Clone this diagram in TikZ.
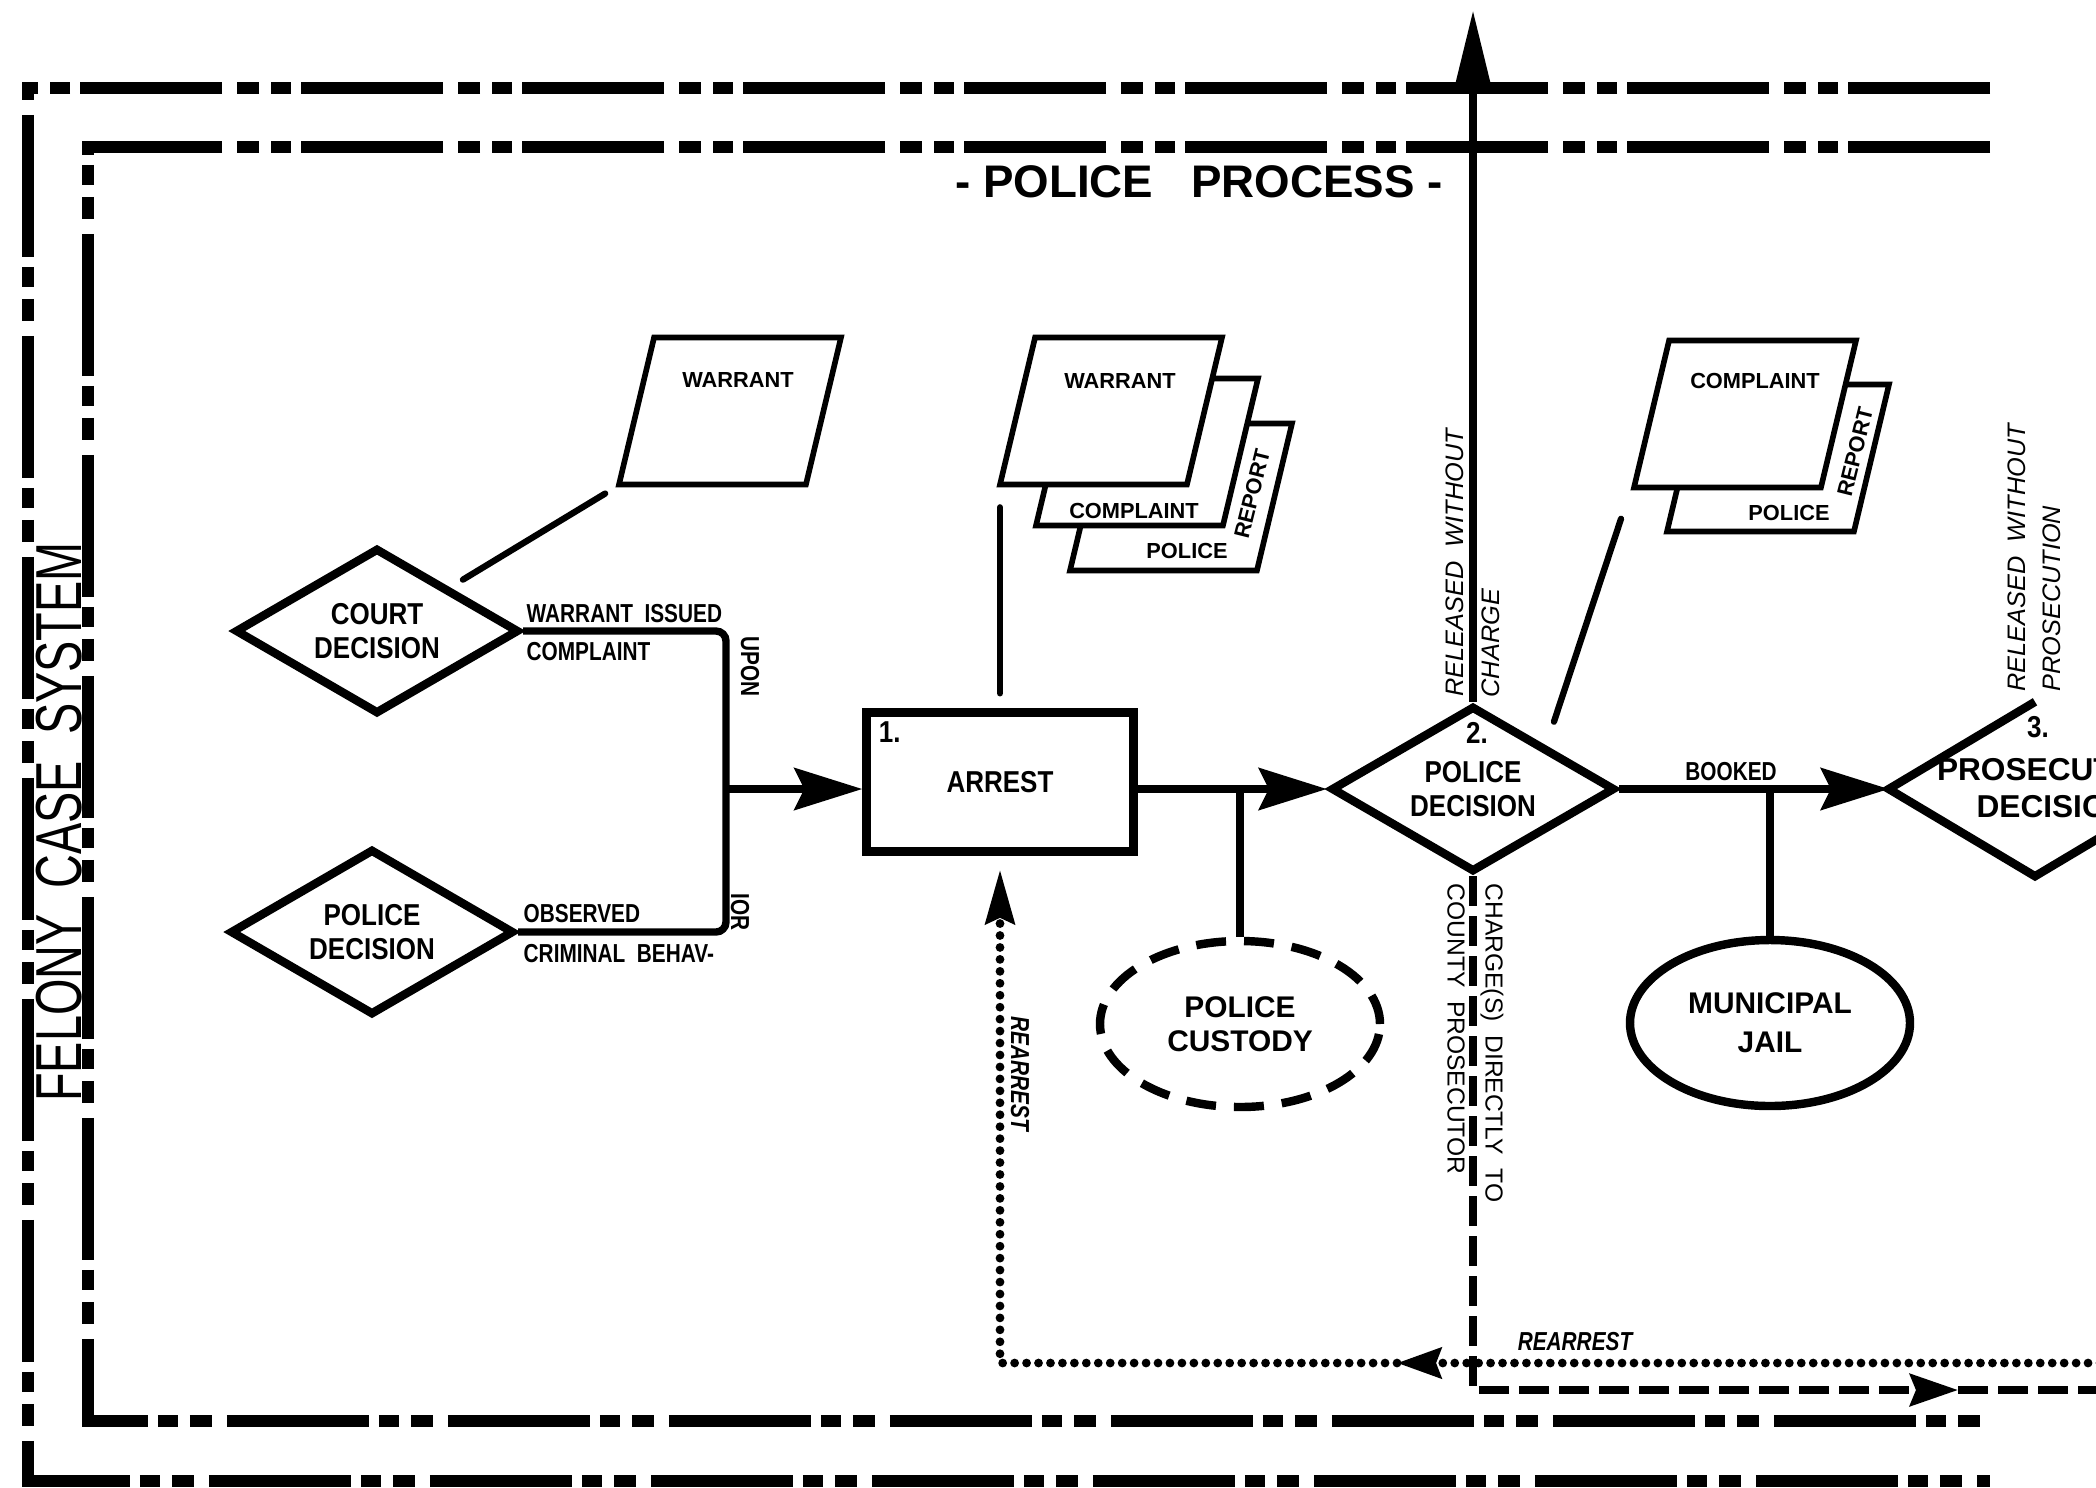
\documentclass[tikz,border=0pt]{standalone}
\usepackage{fontspec}
\setmainfont{Liberation Sans}
\newfontfamily\narrowfont{Liberation Sans}[FakeStretch=0.86]
\newfontfamily\condfont{Liberation Sans}[FakeStretch=0.8]
\newfontfamily\tallfont{Liberation Sans}[FakeStretch=0.72]
\usetikzlibrary{arrows.meta, shapes.geometric}

\begin{document}
\begin{tikzpicture}[
    x=0.1mm, y=-0.1mm,
    border/.style={line width=3.6pt, dash pattern=on 14.2mm off 1mm on 2mm off 1.2mm on 2.2mm off 1.5mm},
    flowline/.style={line width=2.1pt},
    flowarrow/.style={line width=2.1pt, -{Stealth[length=6.8mm, width=4.2mm, inset=1mm]}},
    docline/.style={line width=1.8pt, line cap=round},
    chargeline/.style={line width=2.2pt, dash pattern=on 3mm off 1mm},
    rearrestline/.style={line width=2.5pt, line cap=round, dash pattern=on 0pt off 3.4pt},
    decision/.style={diamond, draw, line width=2.4pt, inner sep=0pt, aspect=1.7, minimum width=28.4mm, minimum height=16.6mm, align=center, font=\narrowfont\bfseries\fontsize{8.6}{9.6}\selectfont},
    stepbox/.style={rectangle, draw, line width=2.4pt, minimum width=26.7mm, minimum height=13.9mm, inner sep=0pt, font=\narrowfont\bfseries\fontsize{8.6}{9.6}\selectfont},
    holdbox/.style={ellipse, draw, line width=2.4pt, minimum width=28mm, minimum height=16.6mm, inner sep=0pt, align=center, font=\bfseries\fontsize{8.5}{9.6}\selectfont},
    docpage/.style={trapezium, trapezium left angle=77, trapezium right angle=103, trapezium stretches=true, draw, fill=white, line width=1.6pt, minimum width=22.2mm, minimum height=14.7mm, inner sep=1mm},
    doclabel/.style={font=\bfseries\fontsize{6.2}{7}\selectfont, inner sep=0pt},
    numlabel/.style={font=\narrowfont\bfseries\fontsize{8.6}{9.6}\selectfont, inner sep=0pt},
    pathlabel/.style={font=\condfont\bfseries\fontsize{7.4}{8}\selectfont, inner sep=0pt},
    rearresttext/.style={font=\condfont\bfseries\itshape\fontsize{7.4}{8}\selectfont, inner sep=0pt},
    sidelabel/.style={font=\itshape\fontsize{7.2}{8}\selectfont, inner sep=0pt},
    chargelabel/.style={font=\fontsize{7}{8}\selectfont, inner sep=0pt},
]
\useasboundingbox (0,0) rectangle (2096,1487);
\clip (0,0) rectangle (2096,1487);

% System and process frames
\draw[border] (1990,88) -- (28,88) -- (28,1481) -- (1990,1481);
\draw[border] (1990,147) -- (88,147) -- (88,1421) -- (1990,1421);

\node[font=\tallfont\fontsize{18.5}{20}\selectfont, inner sep=0pt, rotate=90] (system) at (59,822) {FELONY\ \ CASE\ \ SYSTEM};
\node[font=\bfseries\fontsize{13}{15}\selectfont, inner sep=0pt] (title) at (1199,182) {- POLICE\ \ \ PROCESS -};

% Decisions and steps
\node[decision] (court) at (377,631) {COURT\\DECISION};
\node[decision] (poldec) at (372,932) {POLICE\\DECISION};
\node[stepbox] (arrest) at (1000,782) {ARREST};
\node[numlabel, anchor=north west] (arrestnum) at ([xshift=1.6mm, yshift=-1.3mm]arrest.north west) {1.};
\node[decision] (pdec) at (1473,789) {POLICE\\DECISION};
\node[numlabel] (pdecnum) at (1477,733) {2.};
\node[decision, draw=none] (prosec) at (2035,789) {};
\node[font=\bfseries\fontsize{9}{10.4}\selectfont, align=center, inner sep=0pt] (prosectext) at (2053,788) {PROSECUTION\\DECISION};
\node[numlabel] (prosecnum) at (2038,727) {3.};
\node[holdbox, dash pattern=on 3mm off 1.8mm] (custody) at (1240,1024) {POLICE\\CUSTODY};
\node[holdbox, font=\bfseries\fontsize{8.5}{11}\selectfont] (jail) at (1770,1023) {MUNICIPAL\\JAIL};

% Documents
\node[docpage] (warrantL) at (730,411) {};
\node[doclabel] (warrantLtext) at (738,380) {WARRANT};

\node[docpage] (reportM) at (1181,497) {};
\node[docpage] (complaintM) at (1147,452) {};
\node[docpage] (warrantM) at (1111,411) {};
\node[doclabel] (warrantMtext) at (1120,381) {WARRANT};
\node[doclabel] (complaintMtext) at (1134,511) {COMPLAINT};
\node[doclabel] (policeMtext) at (1187,551) {POLICE};
\node[doclabel, rotate=76] (reportMtext) at (1252,494) {REPORT};

\node[docpage] (reportR) at (1778,458) {};
\node[docpage] (complaintR) at (1745,414) {};
\node[doclabel] (complaintRtext) at (1755,381) {COMPLAINT};
\node[doclabel] (policeRtext) at (1789,513) {POLICE};
\node[doclabel, rotate=76] (reportRtext) at (1855,452) {REPORT};

\draw[docline, shorten <=1.5mm, shorten >=1.2mm] (court.north east) -- (warrantL.bottom left corner);
\draw[docline, shorten <=1.5mm, shorten >=2mm] (arrest.north) -- (arrest.north |- warrantM.south);
\draw[docline, shorten <=2.5mm, shorten >=3mm] (pdec.north east) -- (complaintR.bottom left corner);

% Main flow
\coordinate (merge) at (726,789);
\draw[flowline, rounded corners=1mm] (court.east) -| (merge) |- (poldec.east);
\draw[flowarrow] (merge) -- (arrest.west |- merge);
\draw[flowarrow] (arrest.east |- pdec.west) -- (pdec.west);
\draw[flowline] (custody.north |- pdec.west) -- (custody.north);
\draw[flowarrow] (pdec.east) -- (prosec.west);
\draw[flowline] (jail.north |- pdec.east) -- (jail.north);
\draw[flowline, line width=2.4pt] (prosec.north) -- (prosec.west) -- (prosec.south) -- (prosec.east);

% Released without charge
\coordinate (releaseTop) at (1473,11);
\draw[line width=2.1pt, -{Stealth[length=8mm, width=3.8mm, inset=0.8mm]}] (pdec.north) -- (pdec.north |- releaseTop);

% Charged directly to county prosecutor
\coordinate (countyTip) at (1958,1390);
\coordinate (countyExit) at (2100,1390);
\draw[chargeline, -{Stealth[length=4.8mm, width=3.2mm, inset=0.6mm]}] (pdec.south) |- (countyTip);
\draw[chargeline] (countyTip) -- (countyExit);

% Rearrest
\coordinate (rearrestIn) at (2100,1363);
\coordinate (rearrestTip) at (1397,1363);
\draw[rearrestline, -{Stealth[length=4.4mm, width=3mm, inset=0.5mm]}] (rearrestIn) -- (rearrestTip);
\draw[rearrestline, -{Stealth[length=5.4mm, width=2.9mm, inset=0.6mm]}, shorten >=1.4mm] (rearrestTip) -| (arrest.south);

% Labels
\node[pathlabel, anchor=base west] (issuedtext) at (526,622) {WARRANT\ \ ISSUED};
\node[pathlabel, anchor=base west] (complainttext) at (526,660) {COMPLAINT};
\node[pathlabel, rotate=-90, anchor=west] (upontext) at (750,636) {UPON};
\node[pathlabel, anchor=base west] (observedtext) at (523,922) {OBSERVED};
\node[pathlabel, anchor=base west] (behavtext) at (523,962) {CRIMINAL\ \ BEHAV-};
\node[pathlabel, rotate=-90, anchor=west] (iortext) at (740,893) {IOR};
\node[pathlabel, anchor=base] (bookedtext) at (1731,780) {BOOKED};

\node[sidelabel, rotate=90, anchor=west] (releasedtext) at (1455,697) {RELEASED\ \ WITHOUT};
\node[sidelabel, rotate=90, anchor=west] (chargetext) at (1491,698) {CHARGE};
\node[sidelabel, rotate=90, anchor=west] (releasedtextB) at (2017,692) {RELEASED\ \ WITHOUT};
\node[sidelabel, rotate=90, anchor=west] (prosecutiontext) at (2052,692) {PROSECUTION};

\node[chargelabel, rotate=-90, anchor=west] (chargestext) at (1492,883) {CHARGE(S)\ \ DIRECTLY\ \ TO};
\node[chargelabel, rotate=-90, anchor=west] (countytext) at (1456,883) {COUNTY\ \ PROSECUTOR};

\node[rearresttext, rotate=-90, anchor=west] (rearrestV) at (1020,1016) {REARREST};
\node[rearresttext, anchor=base] (rearrestH) at (1575,1350) {REARREST};

\end{tikzpicture}
\end{document}
